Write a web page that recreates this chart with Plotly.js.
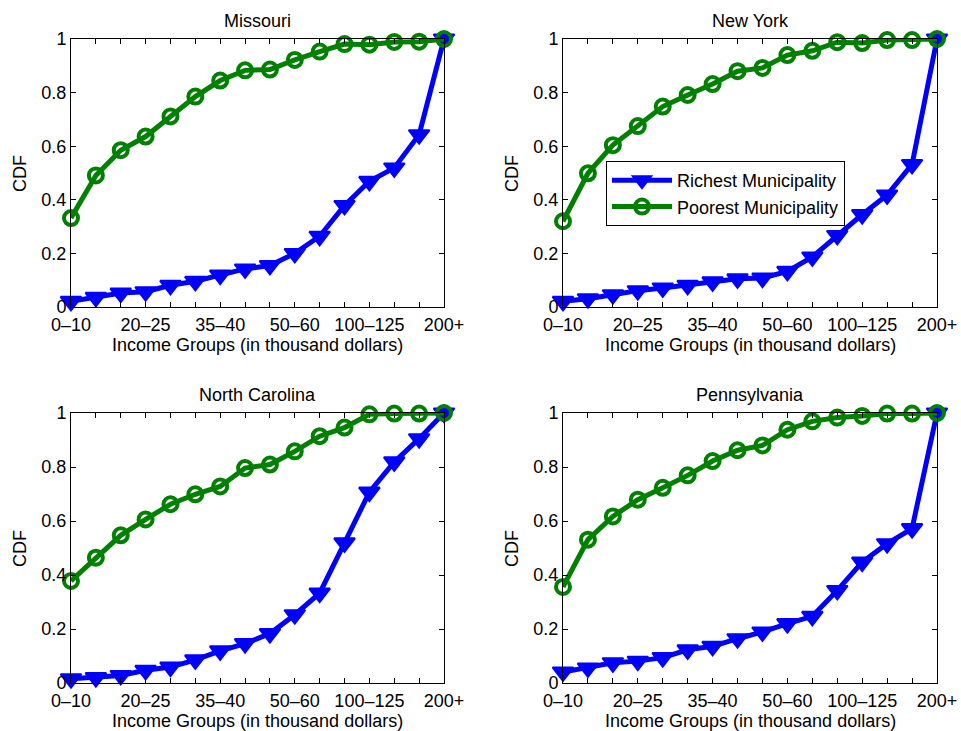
<!DOCTYPE html>
<html>
<head>
<meta charset="utf-8">
<script src="https://cdn.plot.ly/plotly-3.0.1.min.js"></script>
<style>html,body{margin:0;padding:0;background:#fff;}#chart{width:961px;height:731px;}</style>
</head>
<body>
<div id="chart"></div>
<script>
// Income group categories (16 groups)
const incomeGroups = ["0–10","10–15","15–20","20–25","25–30","30–35","35–40","40–45","45–50","50–60","60–75","75–100","100–125","125–150","150–200","200+"];
const labeledGroups = ["0–10","20–25","35–40","50–60","100–125","200+"];

const stateNames = ["Missouri","New York","North Carolina","Pennsylvania"];
const xAxisTitle = "Income Groups (in thousand dollars)";
const yAxisTitle = "CDF";

const missouriRichest = [0.021,0.036,0.052,0.057,0.081,0.096,0.119,0.142,0.155,0.200,0.264,0.379,0.469,0.519,0.643,1.000];
const missouriPoorest = [0.332,0.491,0.585,0.636,0.711,0.785,0.845,0.883,0.886,0.922,0.953,0.981,0.979,0.989,0.990,1.000];

const newYorkRichest = [0.021,0.031,0.046,0.061,0.071,0.081,0.094,0.105,0.108,0.133,0.187,0.267,0.345,0.418,0.532,1.000];
const newYorkPoorest = [0.320,0.499,0.604,0.675,0.748,0.791,0.832,0.880,0.892,0.940,0.956,0.988,0.985,0.996,0.996,1.000];

const northCarolinaRichest = [0.016,0.020,0.028,0.047,0.059,0.086,0.119,0.146,0.183,0.253,0.333,0.519,0.707,0.819,0.905,1.000];
const northCarolinaPoorest = [0.378,0.464,0.547,0.606,0.662,0.699,0.728,0.796,0.809,0.858,0.914,0.946,0.995,0.998,0.998,1.000];

const pennsylvaniaRichest = [0.041,0.056,0.075,0.081,0.094,0.123,0.136,0.164,0.189,0.220,0.247,0.343,0.448,0.516,0.572,1.000];
const pennsylvaniaPoorest = [0.356,0.531,0.617,0.679,0.723,0.769,0.822,0.862,0.880,0.938,0.969,0.983,0.989,0.998,0.998,1.000];

const yTickVals = [0,0.2,0.4,0.6,0.8,1];
const yTickText = ["0","0.2","0.4","0.6","0.8","1"];

const richSeries = [missouriRichest,newYorkRichest,northCarolinaRichest,pennsylvaniaRichest];
const poorSeries = [missouriPoorest,newYorkPoorest,northCarolinaPoorest,pennsylvaniaPoorest];

const W = 961, H = 731;
// pixel boxes of each axes [left,right,top,bottom]
const boxes = [[71,444,39,307],[563,937,39,307],[71,444,413,683],[563,937,413,683]];

const FONT = "Liberation Sans, Arial, Helvetica, sans-serif";
const BLUE = "#0000ff", GREEN = "#008000";
const LABEL_SIZE = 18, TITLE_SIZE = 18;

const xIdx = incomeGroups.map((_, i) => i);
const xText = incomeGroups.map(g => labeledGroups.includes(g) ? g : "");

const traces = [];
const layout = {
  width: W, height: H,
  margin: {l:0,r:0,t:0,b:0},
  paper_bgcolor: "#fff", plot_bgcolor: "#fff",
  font: {family: FONT, size: LABEL_SIZE, color: "#000"},
  showlegend: true,
  legend: {
    x: 606/W, y: 1-161/H, xanchor: "left", yanchor: "top",
    bgcolor: "#fff", bordercolor: "#000", borderwidth: 1,
    font: {family: FONT, size: LABEL_SIZE, color: "#000"},
    tracegroupgap: 0, itemwidth: 60
  },
  annotations: []
};

stateNames.forEach((name, k) => {
  const n = k + 1;
  const xa = n === 1 ? "x" : "x" + n;
  const ya = n === 1 ? "y" : "y" + n;
  const b = boxes[k];
  traces.push({
    x: xIdx, y: richSeries[k], xaxis: xa, yaxis: ya,
    type: "scatter", mode: "lines+markers",
    name: "Richest Municipality", legendgroup: "rich", showlegend: k === 1,
    line: {color: BLUE, width: 5},
    marker: {symbol: "triangle-down", size: 18, color: BLUE, line: {color: BLUE, width: 2}},
    cliponaxis: false
  });
  traces.push({
    x: xIdx, y: poorSeries[k], xaxis: xa, yaxis: ya,
    type: "scatter", mode: "lines+markers",
    name: "Poorest Municipality", legendgroup: "poor", showlegend: k === 1,
    line: {color: GREEN, width: 5},
    marker: {symbol: "circle-open", size: 14, color: GREEN, line: {color: GREEN, width: 4}},
    cliponaxis: false
  });
  const xKey = n === 1 ? "xaxis" : "xaxis" + n;
  const yKey = n === 1 ? "yaxis" : "yaxis" + n;
  layout[xKey] = {
    domain: [b[0]/W, b[1]/W], anchor: ya, range: [0, 15],
    tickmode: "array", tickvals: xIdx, ticktext: xText,
    ticks: "inside", ticklen: 5, tickcolor: "#000", tickwidth: 1,
    showline: true, linecolor: "#000", linewidth: 1, mirror: "ticks",
    showgrid: false, zeroline: false, tickangle: 0,
    ticklabelstandoff: 1,
    tickfont: {family: FONT, size: LABEL_SIZE, color: "#000"},
    automargin: false
  };
  layout[yKey] = {
    domain: [1 - b[3]/H, 1 - b[2]/H], anchor: xa, range: [0, 1],
    tickmode: "array", tickvals: yTickVals, ticktext: yTickText,
    ticks: "inside", ticklen: 5, tickcolor: "#000", tickwidth: 1,
    showline: true, linecolor: "#000", linewidth: 1, mirror: "ticks",
    showgrid: false, zeroline: false,
    tickfont: {family: FONT, size: LABEL_SIZE, color: "#000"},
    automargin: false
  };
  // subplot title
  layout.annotations.push({
    text: name, xref: "paper", yref: "paper",
    x: (b[0] + b[1]) / 2 / W, y: 1 - (b[2] - 18) / H,
    xanchor: "center", yanchor: "middle", showarrow: false,
    font: {family: FONT, size: TITLE_SIZE, color: "#000"}
  });
  // x-axis title
  layout.annotations.push({
    text: xAxisTitle, xref: "paper", yref: "paper",
    x: (b[0] + b[1]) / 2 / W, y: 1 - (b[3] + 38) / H,
    xanchor: "center", yanchor: "middle", showarrow: false,
    font: {family: FONT, size: LABEL_SIZE, color: "#000"}
  });
  // y-axis title
  layout.annotations.push({
    text: yAxisTitle, xref: "paper", yref: "paper",
    x: (b[0] - 51) / W, y: 1 - ((b[2] + b[3]) / 2 + 1) / H,
    xanchor: "center", yanchor: "middle", showarrow: false, textangle: -90,
    font: {family: FONT, size: LABEL_SIZE, color: "#000"}
  });
});

Plotly.newPlot("chart", traces, layout, {staticPlot: true, displayModeBar: false});
</script>
</body>
</html>
